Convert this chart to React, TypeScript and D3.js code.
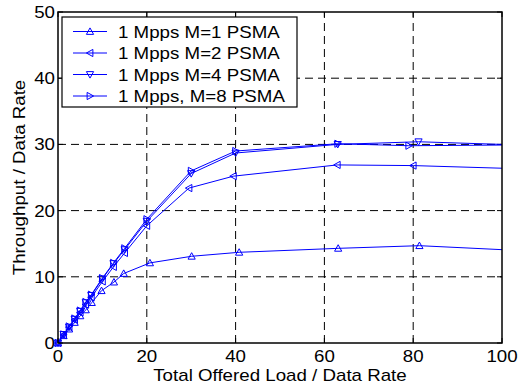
import React from 'react';
import * as d3 from 'd3';

// offered load (x) and throughput (y) per series
const low = [0, 1.25, 2.5, 3.75, 5, 6.25, 7.5, 10, 12.5, 15];

const x1 = [...low.slice(0, 6), 7.6, 9.8, 12.6, 14.8, 20.7, 30.1, 40.8, 63.1, 81.4, 100];
const y1 = [0, 1.1, 2.1, 3.1, 4.1, 5.0, 6.1, 7.9, 9.2, 10.5, 12.1, 13.1, 13.7, 14.3, 14.7, 14.1];

const x2 = [...low, 20, 29.5, 39.5, 62.9, 80, 100];
const y2 = [0, 1.2, 2.4, 3.5, 4.6, 5.8, 6.9, 9.3, 11.5, 13.6, 17.7, 23.4, 25.2, 26.9, 26.8, 26.4];

const x4 = [...low, 20, 30, 40, 63, 81.2, 100];
const y4 = [0, 1.3, 2.4, 3.6, 4.8, 6.1, 7.2, 9.7, 12.0, 14.1, 18.4, 25.6, 28.7, 30.0, 30.4, 30.0];

const x8 = [...low, 20, 30, 40, 63, 79, 100];
const y8 = [0, 1.3, 2.5, 3.7, 4.9, 6.2, 7.3, 9.8, 12.1, 14.3, 18.7, 26.0, 29.0, 30.1, 29.8, 29.9];

const labels = ['1 Mpps M=1 PSMA', '1 Mpps M=2 PSMA', '1 Mpps M=4 PSMA', '1 Mpps, M=8 PSMA'];
const markers = ['up', 'left', 'down', 'right'];

const xTicks = [0, 20, 40, 60, 80, 100];
const yTicks = [0, 10, 20, 30, 40, 50];

const W = 524, H = 385;
const margin = { top: 12, right: 22, bottom: 42, left: 58 };
const FONT = '"Liberation Sans", Arial, sans-serif';
const BLUE = '#0000ff';
const SX = 1.17; // text in the reference renders wider than Arial

function tri(dir: string, cx: number, cy: number, r = 3.6) {
  const pts: [number, number][] =
    dir === 'up' ? [[0, -r], [r, r * 0.8], [-r, r * 0.8]] :
    dir === 'down' ? [[0, r], [r, -r * 0.8], [-r, -r * 0.8]] :
    dir === 'left' ? [[-r, 0], [r * 0.8, -r], [r * 0.8, r]] :
    [[r, 0], [-r * 0.8, -r], [-r * 0.8, r]];
  return 'M' + pts.map(p => (cx + p[0]) + ',' + (cy + p[1])).join('L') + 'Z';
}

function Txt(props: any) {
  const { x, y, rotate, anchor, children } = props;
  return (
    <text
      transform={`translate(${x},${y})${rotate ? ` rotate(${rotate})` : ''} scale(${SX},1)`}
      textAnchor={anchor || 'start'}
      fontFamily={FONT}
      fontSize={16}
      fill="#000"
    >
      {children}
    </text>
  );
}

export default function App() {
  const x = d3.scaleLinear().domain([0, 100]).range([margin.left, W - margin.right]);
  const y = d3.scaleLinear().domain([0, 50]).range([H - margin.bottom, margin.top]);

  const series = [
    { xs: x1, ys: y1, m: markers[0] },
    { xs: x2, ys: y2, m: markers[1] },
    { xs: x4, ys: y4, m: markers[2] },
    { xs: x8, ys: y8, m: markers[3] },
  ];

  const line = d3.line<[number, number]>().x(d => x(d[0])).y(d => y(d[1]));

  const x0 = x(0), x100 = x(100), yb = y(0), yt = y(50);

  // legend
  const lg = { x: 62, y: 17, w: 235, h: 90 };
  const rowY = (i: number) => 31.5 + i * 21.5;

  return (
    <div style={{ position: 'fixed', left: 0, top: 0 }}>
      <svg width={W} height={H} style={{ display: 'block', background: '#fff' }}>
        {/* grid */}
        {xTicks.slice(1, -1).map(t => (
          <line key={'gx' + t} x1={x(t)} x2={x(t)} y1={yb} y2={yt}
            stroke="#000" strokeWidth={1} strokeDasharray="8,5" />
        ))}
        {yTicks.slice(1, -1).map(t => (
          <line key={'gy' + t} x1={x0} x2={x100} y1={y(t)} y2={y(t)}
            stroke="#000" strokeWidth={1} strokeDasharray="8,5" />
        ))}

        {/* ticks on all four sides */}
        {xTicks.map(t => (
          <g key={'tx' + t}>
            <line x1={x(t)} x2={x(t)} y1={yb} y2={yb - 5} stroke="#000" />
            <line x1={x(t)} x2={x(t)} y1={yt} y2={yt + 5} stroke="#000" />
          </g>
        ))}
        {yTicks.map(t => (
          <g key={'ty' + t}>
            <line x1={x0} x2={x0 + 5} y1={y(t)} y2={y(t)} stroke="#000" />
            <line x1={x100} x2={x100 - 5} y1={y(t)} y2={y(t)} stroke="#000" />
          </g>
        ))}

        {/* series (last point sits on the frame, no marker there) */}
        {series.slice().reverse().map((s, i) => {
          const pts = s.xs.map((v, j) => [v, s.ys[j]] as [number, number]);
          return (
            <g key={'s' + i}>
              <path d={line(pts) || ''} fill="none" stroke={BLUE} strokeWidth={1} />
              {pts.slice(0, -1).map((p, j) => (
                <path key={j} d={tri(s.m, x(p[0]), y(p[1]))} fill="none" stroke={BLUE} strokeWidth={1} />
              ))}
            </g>
          );
        })}

        {/* frame */}
        <rect x={x0} y={yt} width={x100 - x0} height={yb - yt} fill="none" stroke="#000" strokeWidth={1.5} />

        {/* legend */}
        <rect x={lg.x} y={lg.y} width={lg.w} height={lg.h} fill="#fff" stroke="#000" strokeWidth={1.2} />
        {labels.map((l, i) => (
          <g key={'l' + i}>
            <line x1={73} x2={107} y1={rowY(i)} y2={rowY(i)} stroke={BLUE} strokeWidth={1} />
            <path d={tri(markers[i], 90, rowY(i))} fill="none" stroke={BLUE} strokeWidth={1} />
            <Txt x={118} y={rowY(i) + 6}>{l}</Txt>
          </g>
        ))}

        {/* tick labels */}
        {xTicks.map(t => (
          <Txt key={'lx' + t} x={x(t)} y={362} anchor="middle">{t}</Txt>
        ))}
        {yTicks.map(t => (
          <Txt key={'ly' + t} x={x0 - 3} y={y(t) + 6} anchor="end">{t}</Txt>
        ))}

        {/* axis titles */}
        <Txt x={(x0 + x100) / 2} y={381} anchor="middle">Total Offered Load / Data Rate</Txt>
        <Txt x={25} y={(yt + yb) / 2} rotate={-90} anchor="middle">Throughput / Data Rate</Txt>
      </svg>
    </div>
  );
}
